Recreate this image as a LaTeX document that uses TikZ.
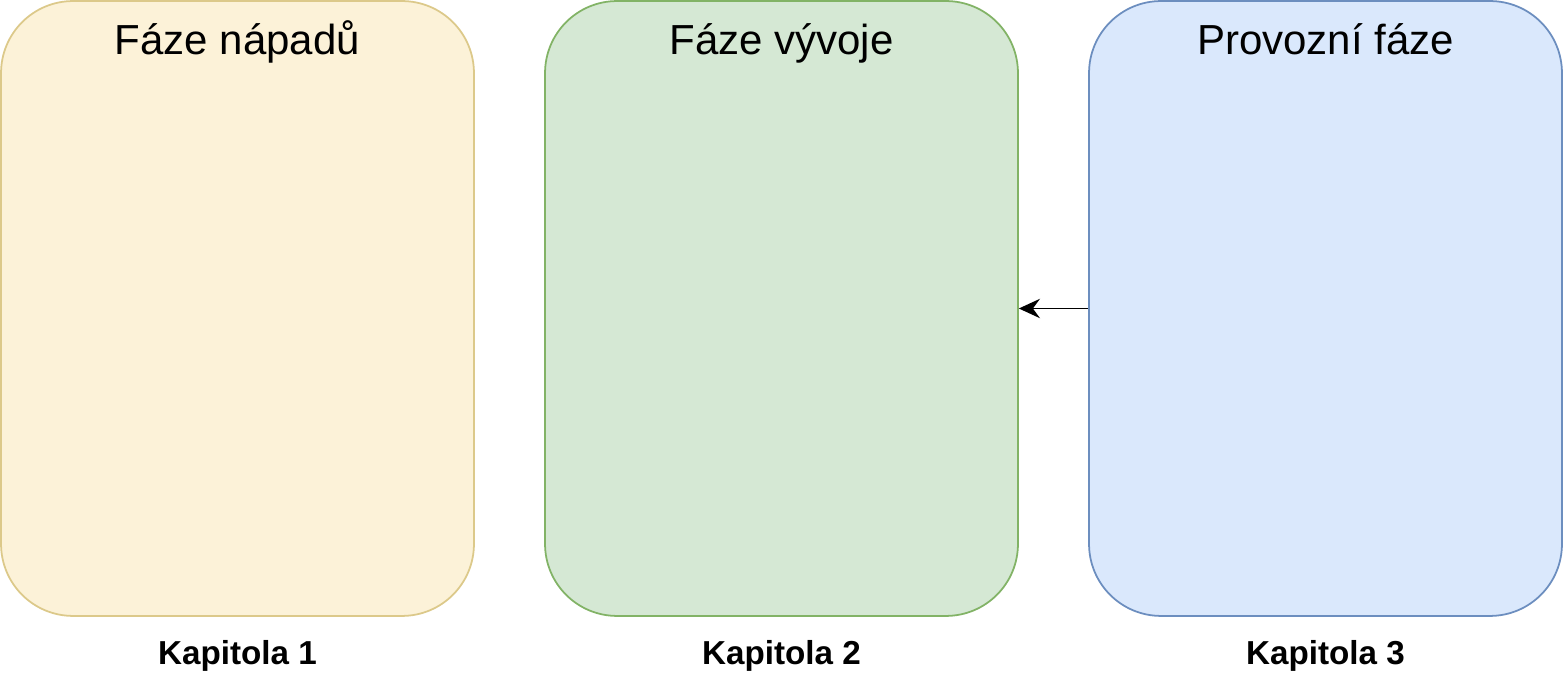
\documentclass[tikz,border=0pt]{standalone}
\usepackage{fontspec}
\setmainfont{Liberation Sans}
\usetikzlibrary{arrows.meta}
\definecolor{ideafill}{HTML}{FCF2D8}
\definecolor{ideadraw}{HTML}{DCC98A}
\definecolor{devfill}{HTML}{D5E8D4}
\definecolor{devdraw}{HTML}{82B366}
\definecolor{opfill}{HTML}{DAE8FC}
\definecolor{opdraw}{HTML}{6C8EBF}

\begin{document}
\begin{tikzpicture}[x=0.02cm,y=-0.02cm,
  phase/.style={draw,line width=1pt,rounded corners=1.44cm,minimum width=9.46cm,minimum height=12.3cm,inner sep=0pt},
  title/.style={anchor=base,font=\fontsize{23.9}{28}\selectfont},
  chapter/.style={anchor=base,font=\fontsize{18.9}{22}\selectfont\bfseries}]
\useasboundingbox (0,0) rectangle (1563,688);
\node [phase,fill=ideafill,draw=ideadraw] (v0) at (237.5,308.5) {};
\node [phase,fill=devfill,draw=devdraw] (v1) at (781.5,308.5) {};
\node [phase,fill=opfill,draw=opdraw] (v2) at (1325.5,308.5) {};
\node [title] (t0) at (237.5,55) {Fáze nápadů};
\node [title] (t1) at (781.5,55) {Fáze vývoje};
\node [title] (t2) at (1325.5,55) {Provozní fáze};
\node [chapter] (k0) at (237.5,665) {Kapitola 1};
\node [chapter] (k1) at (781.5,665) {Kapitola 2};
\node [chapter] (k2) at (1325.5,665) {Kapitola 3};
\draw [-{Stealth[length=12pt,width=11pt,inset=4pt]},line width=1.1pt] (v2) -- (v1);
\end{tikzpicture}
\end{document}
